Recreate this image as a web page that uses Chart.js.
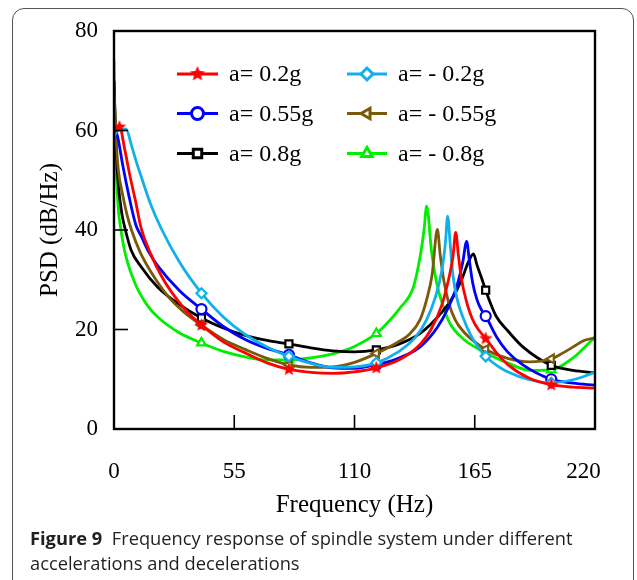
<!DOCTYPE html>
<html><head><meta charset="utf-8">
<script src="https://cdn.jsdelivr.net/npm/chart.js@4/dist/chart.umd.min.js"></script>
<style>
html,body{margin:0;padding:0;background:#fff;}
#wrap{position:relative;width:637px;height:580px;overflow:hidden;background:#fff;}
#frame{position:absolute;left:12px;top:8px;width:622px;height:620px;border:1.5px solid #555;border-radius:12px;box-sizing:border-box;}
#c{position:absolute;left:0;top:0;}
#cap{position:absolute;left:30px;top:525px;font-family:'Open Sans';font-size:18.3px;line-height:25px;color:#231f20;white-space:nowrap;}
</style></head>
<body><div id="wrap"><div id="frame"></div><canvas id="c" width="637" height="580"></canvas>
<div id="cap"><b>Figure 9</b>&nbsp; Frequency response of spindle system under different<br>accelerations and decelerations</div></div>
<script>
// ---- data ----
const seriesLabels = ['a= 0.2g','a= - 0.2g','a= 0.55g','a= - 0.55g','a= 0.8g','a= - 0.8g'];
const xTickValues = [0,55,110,165,220];
const xTickLabels = ['0','55','110','165','220\u2007\u2007'];
const yTickValues = [0,20,40,60,80];
const markerFreqs = [40,80,120,170,200];
const redExtraMarkers = [2.5];

// a = 0.2g (red)
const f02  = [0,2.5,5,7,10,12.4,17,22,28,34,40,50,60,70,80,90,100,110,120,130,140,145,150,153,155,156.3,157.5,159,161,164,167,170,175,180,190,200,210,220];
const p02  = [59.5,60.7,56,51.5,45.5,40.4,35,30.5,26.5,23.3,20.9,17.5,15.3,13.3,12,11.4,11.2,11.5,12.3,13.8,17,20,25,30,34.5,39.5,35,30,26,22,19.8,18.2,15.3,13,10.2,8.9,8.4,8.2];
// a = -0.2g (cyan)
const fm02 = [0,2,5.5,8,10,12.4,16.5,21.5,30,40,50,60,70,80,90,100,110,120,130,138,143,147,150,151.6,152.6,153.8,155,157,160,163,166,170,175,180,190,200,210,220];
const pm02 = [59,60,60.3,57,54,50.8,45.5,40.4,33.5,27.3,22.5,19,16.5,14.6,13.2,12.4,12.5,13.3,15.5,18.5,22,26.5,32,37.5,42.8,37,31,26,22,19,16.8,14.6,12.8,11.5,9.9,9.3,9.9,11.4];
// a = 0.55g (blue)
const f055  = [0,1.8,4,7,10,12.4,16,20,30,40,50,60,70,80,90,100,110,120,130,140,148,153,157,159.5,161.3,162.5,164,166,168,170,175,180,187,200,210,220];
const p055  = [61,58.5,53,46.5,41,38.8,35.5,32.8,27.8,24.1,20.6,18,16.2,14.9,13.3,12.3,12.2,12.9,14.2,16.5,20.5,24.5,29,33.5,37.7,34,29.5,26,24,22.7,18.5,15.5,12.9,10,9.2,8.8];
// a = -0.55g (brown)
const fm055 = [0,1,2,4,6,8,12,17,25,32,40,50,60,70,80,90,100,110,120,130,135,140,143,145.5,147.9,149.2,151,153,156,160,165,170,180,190,200,205,210,215,220];
const pm055 = [68,58,52,47,43,40,35.5,31.5,26.5,23.5,20.9,18,16,14.2,12.9,12.4,12.5,13.4,15.2,17.5,19,22,26,31,40.1,35,29.5,25.5,22,19.5,17.5,16,14.2,13.5,14.1,15.2,16.5,17.8,18.3];
// a = 0.8g (black)
const f08  = [0,1,2,3.5,5,7.8,12.4,20,30,40,50,60,70,80,90,100,110,120,130,140,150,155,159,162,164.4,166,168,170,172,175,180,187,200,210,220];
const p08  = [70,56,49,43.5,40.4,36,32.6,28.5,25,22.3,20.3,18.8,17.8,17.1,16.3,15.7,15.5,15.9,17,19.2,23.5,26.5,30,33.5,35.2,33,30.5,27.9,25.5,22.5,19.8,16.5,12.8,11.8,11.3];
// a = -0.8g (green)
const fm08 = [0,0.5,1,2,3,5,9.6,15,20,30,40,50,60,70,80,90,100,110,120,125,130.8,137,140,141.8,143,145.3,147.6,150.6,153.7,160,165,170,180,190,200,210,220];
const pm08 = [74,60,52,44,40.5,35.5,29.3,25,22.5,19.3,17.3,15.6,14.5,13.9,13.9,14.3,15.1,16.6,19.2,21.3,24.3,28.6,34.6,40,44.8,35.4,29.3,24.6,21.2,18,16.5,15.3,13.3,11.8,11.9,14.3,18.5];

const colors = ['#ff0000','#12b0ea','#0000ff','#7a5a0a','#000000','#00ee00'];

function starCanvas(r, color){
  const c = document.createElement('canvas');
  c.width = c.height = 2*r+2;
  const g = c.getContext('2d');
  g.fillStyle = color; g.beginPath();
  for (let i=0;i<10;i++){
    const a = -Math.PI/2 + i*Math.PI/5;
    const rr = i%2 ? r*0.45 : r;
    g.lineTo(r+1+rr*Math.cos(a), r+1+rr*Math.sin(a));
  }
  g.closePath(); g.fill();
  return c;
}
const starSmall = starCanvas(7,'#ff0000');
const starBig = starCanvas(8,'#ff0000');

function pts(fs, ps){ return fs.map((f,i)=>({x:f, y:ps[i]})); }
function markerRadius(extra){
  return (ctx)=>{ const r = ctx.raw; if(!r) return 0; return (markerFreqs.includes(r.x) || extra.includes(r.x)) ? 5 : 0; };
}

const defs = [
  {f:f02, p:p02, style:starSmall, rot:0, extra:redExtraMarkers},
  {f:fm02, p:pm02, style:'rectRot', rot:0, extra:[]},
  {f:f055, p:p055, style:'circle', rot:0, extra:[]},
  {f:fm055, p:pm055, style:'triangle', rot:-90, extra:[]},
  {f:f08, p:p08, style:'rect', rot:0, extra:[]},
  {f:fm08, p:pm08, style:'triangle', rot:0, extra:[]}
];

const datasets = defs.map((d,i)=>({
  label: seriesLabels[i],
  data: pts(d.f, d.p),
  borderColor: colors[i],
  backgroundColor: '#ffffff',
  pointBorderColor: colors[i],
  pointBackgroundColor: '#ffffff',
  borderWidth: 2.8,
  pointBorderWidth: 2.2,
  pointStyle: d.style,
  pointRotation: d.rot,
  pointRadius: markerRadius(d.extra),
  pointHoverRadius: 0,
  cubicInterpolationMode: 'monotone',
  fill: false
}));

const frameTicks = {
  id:'frameTicks',
  afterDatasetsDraw(chart){
    const {ctx, chartArea:a, scales:{x,y}} = chart;
    ctx.save();
    ctx.strokeStyle = '#000';
    ctx.lineWidth = 1.6;
    x.ticks.forEach(t=>{ const px = x.getPixelForValue(t.value);
      ctx.beginPath(); ctx.moveTo(px,a.bottom); ctx.lineTo(px,a.bottom-14); ctx.stroke(); });
    y.ticks.forEach(t=>{ const py = y.getPixelForValue(t.value);
      ctx.beginPath(); ctx.moveTo(a.left,py); ctx.lineTo(a.left+14,py); ctx.stroke(); });
    ctx.lineWidth = 2.4;
    ctx.strokeRect(a.left, a.top, a.right-a.left, a.bottom-a.top);
    ctx.restore();
  }
};

const legendPlugin = {
  id:'innerLegend',
  afterDraw(chart){
    const ctx = chart.ctx;
    ctx.save();
    chart.data.datasets.forEach((ds,i)=>{
      const col = i%2, row = Math.floor(i/2);
      const x0 = [177,347][col], x1 = [218,387][col];
      const y = [74,113.5,153.5][row];
      ctx.strokeStyle = ds.borderColor; ctx.lineWidth = 3;
      ctx.beginPath(); ctx.moveTo(x0,y); ctx.lineTo(x1,y); ctx.stroke();
      const xm = (x0+x1)/2;
      ctx.fillStyle = '#fff'; ctx.strokeStyle = ds.borderColor;
      const st = ds.pointStyle === starSmall ? starBig : ds.pointStyle;
      Chart.helpers.drawPoint(ctx, {pointStyle: st, rotation: ds.pointRotation||0, radius: 6, borderWidth: 2.5}, xm, y);
      ctx.fillStyle = '#000';
      ctx.font = '24px "Liberation Serif"';
      ctx.textBaseline = 'middle'; ctx.textAlign = 'left';
      ctx.fillText(ds.label, [229,398][col], y+1);
    });
    ctx.restore();
  }
};

Chart.defaults.font.family = '"Liberation Serif", "Times New Roman", serif';
Chart.defaults.color = '#000';

new Chart(document.getElementById('c'), {
  type: 'line',
  data: { datasets },
  options: {
    responsive: false,
    animation: false,
    events: [],
    layout: { padding: {top:31, right:42, bottom:60, left:0} },
    plugins: { legend:{display:false}, tooltip:{enabled:false} },
    scales: {
      x: {
        type:'linear', min:0, max:220,
        afterBuildTicks: s => { s.ticks = xTickValues.map(v=>({value:v})); },
        afterFit: s => { s.height = 91; s.paddingLeft = 0; s.paddingRight = 0; },
        grid: { display:false, drawTicks:false },
        border: { display:false },
        ticks: { font:{size:23}, padding:29, maxRotation:0,
                 callback: (v) => xTickLabels[xTickValues.indexOf(v)] },
        title: { display:true, text:'Frequency (Hz)', font:{size:25}, padding:{top:0,bottom:0} }
      },
      y: {
        type:'linear', min:0, max:80,
        afterBuildTicks: s => { s.ticks = yTickValues.map(v=>({value:v})); },
        afterFit: s => { s.width = 114; s.paddingTop = 0; s.paddingBottom = 0; },
        grid: { display:false, drawTicks:false },
        border: { display:false },
        ticks: { font:{size:23}, padding:16 },
        title: { display:true, text:'PSD (dB/Hz)', font:{size:25}, padding:{top:35,bottom:0} }
      }
    }
  },
  plugins: [frameTicks, legendPlugin]
});
</script>
</body></html>
